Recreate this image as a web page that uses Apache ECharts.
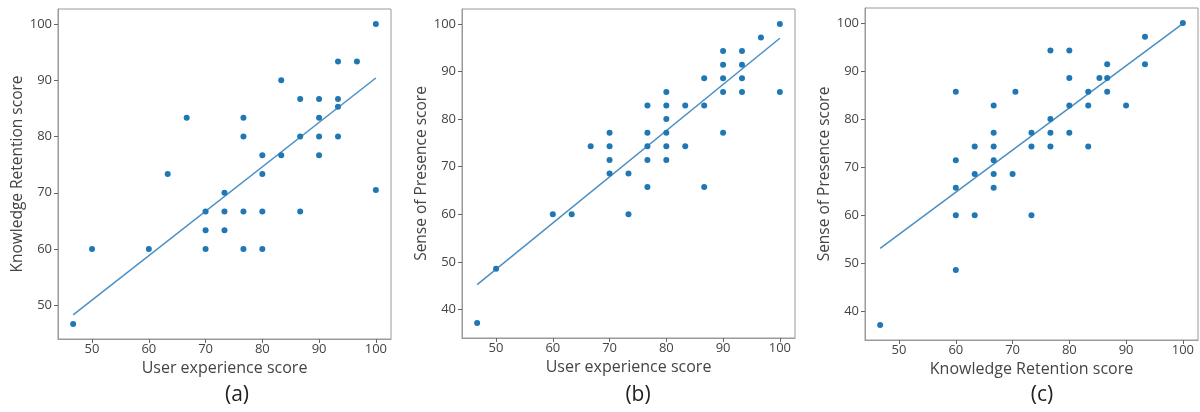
<!DOCTYPE html>
<html>
<head>
<meta charset="utf-8">
<script src="https://cdn.jsdelivr.net/npm/echarts@6/dist/echarts.min.js"></script>
<style>
html,body{margin:0;padding:0;background:#fff;}
#chart{width:1200px;height:412px;}
</style>
</head>
<body>
<div id="chart"></div>
<script>
// Panel (a): User experience vs Knowledge Retention
var aX = [46.67,50,60,63.33,66.67,70,70,70,73.33,73.33,73.33,76.67,76.67,76.67,76.67,80,80,80,80,83.33,83.33,86.67,86.67,86.67,90,90,90,90,93.33,93.33,93.33,93.33,96.67,100,100];
var aY = [46.67,60,60,73.33,83.33,66.67,63.33,60,70,66.67,63.33,83.33,80,66.67,60,76.67,73.33,66.67,60,90,76.67,86.67,80,66.67,86.67,83.33,80,76.67,93.33,86.67,85.3,80,93.33,100,70.5];
var aFitX = [46.67,100];
var aFitY = [48.3,90.4];

// Panel (b): User experience vs Sense of Presence
var bX = [46.67,50,60,63.33,66.67,70,70,70,70,73.33,73.33,76.67,76.67,76.67,76.67,76.67,80,80,80,80,80,80,83.33,83.33,86.67,86.67,86.67,90,90,90,90,90,93.33,93.33,93.33,93.33,96.67,100,100];
var bY = [37.14,48.57,60,60,74.29,77.14,74.29,71.43,68.57,68.57,60,82.86,77.14,74.29,71.43,65.71,85.71,82.86,80,77.14,74.29,71.43,82.86,74.29,88.57,82.86,65.71,94.29,91.43,88.57,85.71,77.14,94.29,91.43,88.57,85.71,97.14,100,85.71];
var bFitX = [46.67,100];
var bFitY = [45.2,97.0];

// Panel (c): Knowledge Retention vs Sense of Presence
var cX = [46.67,60,60,60,60,60,63.33,63.33,63.33,66.67,66.67,66.67,66.67,66.67,66.67,70,70.5,73.33,73.33,73.33,76.67,76.67,76.67,76.67,80,80,80,80,83.33,83.33,83.33,85.3,86.67,86.67,86.67,90,93.33,93.33,100];
var cY = [37.14,85.71,71.43,65.71,60,48.57,74.29,68.57,60,82.86,77.14,74.29,71.43,68.57,65.71,68.57,85.71,77.14,74.29,60,94.29,80,77.14,74.29,94.29,88.57,82.86,77.14,85.71,82.86,74.29,88.57,91.43,88.57,85.71,82.86,97.14,91.43,100];
var cFitX = [46.67,100];
var cFitY = [53.1,99.9];

var xTicks = [50,60,70,80,90,100];
var yTicksA = [50,60,70,80,90,100];
var yTicksBC = [40,50,60,70,80,90,100];
var xNames = ['User experience score','User experience score','Knowledge Retention score'];
var yNames = ['Knowledge Retention score','Sense of Presence score','Sense of Presence score'];
var captions = ['(a)','(b)','(c)'];

function pairs(xs, ys){ return xs.map(function(x,i){ return [x, ys[i]]; }); }

var FONT = 'Open Sans';
var TXT = '#444444';
var FRAME = '#9a9a9a';

var grids = [
  {left:58, top:9, width:333, height:330},
  {left:462, top:9, width:333, height:329},
  {left:865, top:8, width:333, height:332}
];
grids.forEach(function(g){ g.show = true; g.borderColor = FRAME; g.borderWidth = 1; g.backgroundColor = 'transparent'; });

var yRanges = [[44,102.67],[34,103.14],[34,103.14]];
var yTickSets = [yTicksA, yTicksBC, yTicksBC];

var xAxes = [0,1,2].map(function(i){
  return {
    type:'value', gridIndex:i, min:44, max:102.67,
    name:xNames[i], nameLocation:'middle', nameGap:18,
    nameTextStyle:{fontFamily:FONT, fontSize:16, color:TXT},
    axisLine:{show:true, onZero:false, lineStyle:{color:FRAME}},
    axisTick:{show:true, length:4, customValues:xTicks, lineStyle:{color:'#666'}},
    axisLabel:{customValues:xTicks, fontFamily:FONT, fontSize:13, color:TXT, margin:4},
    splitLine:{show:false}
  };
});
var yAxes = [0,1,2].map(function(i){
  return {
    type:'value', gridIndex:i, min:yRanges[i][0], max:yRanges[i][1],
    name:yNames[i], nameLocation:'middle', nameGap:31, nameRotate:90,
    nameTextStyle:{fontFamily:FONT, fontSize:15.5, color:TXT},
    axisLine:{show:true, onZero:false, lineStyle:{color:FRAME}},
    axisTick:{show:true, length:4, customValues:yTickSets[i], lineStyle:{color:'#666'}},
    axisLabel:{customValues:yTickSets[i], fontFamily:FONT, fontSize:13, color:TXT, margin:6},
    splitLine:{show:false}
  };
});

var scatterData = [pairs(aX,aY), pairs(bX,bY), pairs(cX,cY)];
var fitData = [pairs(aFitX,aFitY), pairs(bFitX,bFitY), pairs(cFitX,cFitY)];
var series = [];
[0,1,2].forEach(function(i){
  series.push({type:'line', xAxisIndex:i, yAxisIndex:i, data:fitData[i], showSymbol:false, symbol:'none',
    lineStyle:{color:'#4a8fc4', width:1.5}, silent:true, z:2});
  series.push({type:'scatter', xAxisIndex:i, yAxisIndex:i, data:scatterData[i], symbolSize:6,
    itemStyle:{color:'#1f77b4', opacity:1}, z:3});
});

var capX = [237, 638, 1042];
var graphics = captions.map(function(t,i){
  return {type:'text', x:capX[i], y:395, style:{text:t, font:'21px "Open Sans"', fill:'#222', align:'center', verticalAlign:'middle'}};
});

var chart = echarts.init(document.getElementById('chart'), null, {renderer:'canvas'});
chart.setOption({
  animation:false,
  backgroundColor:'#ffffff',
  grid:grids, xAxis:xAxes, yAxis:yAxes, series:series, graphic:graphics
});
</script>
</body>
</html>
